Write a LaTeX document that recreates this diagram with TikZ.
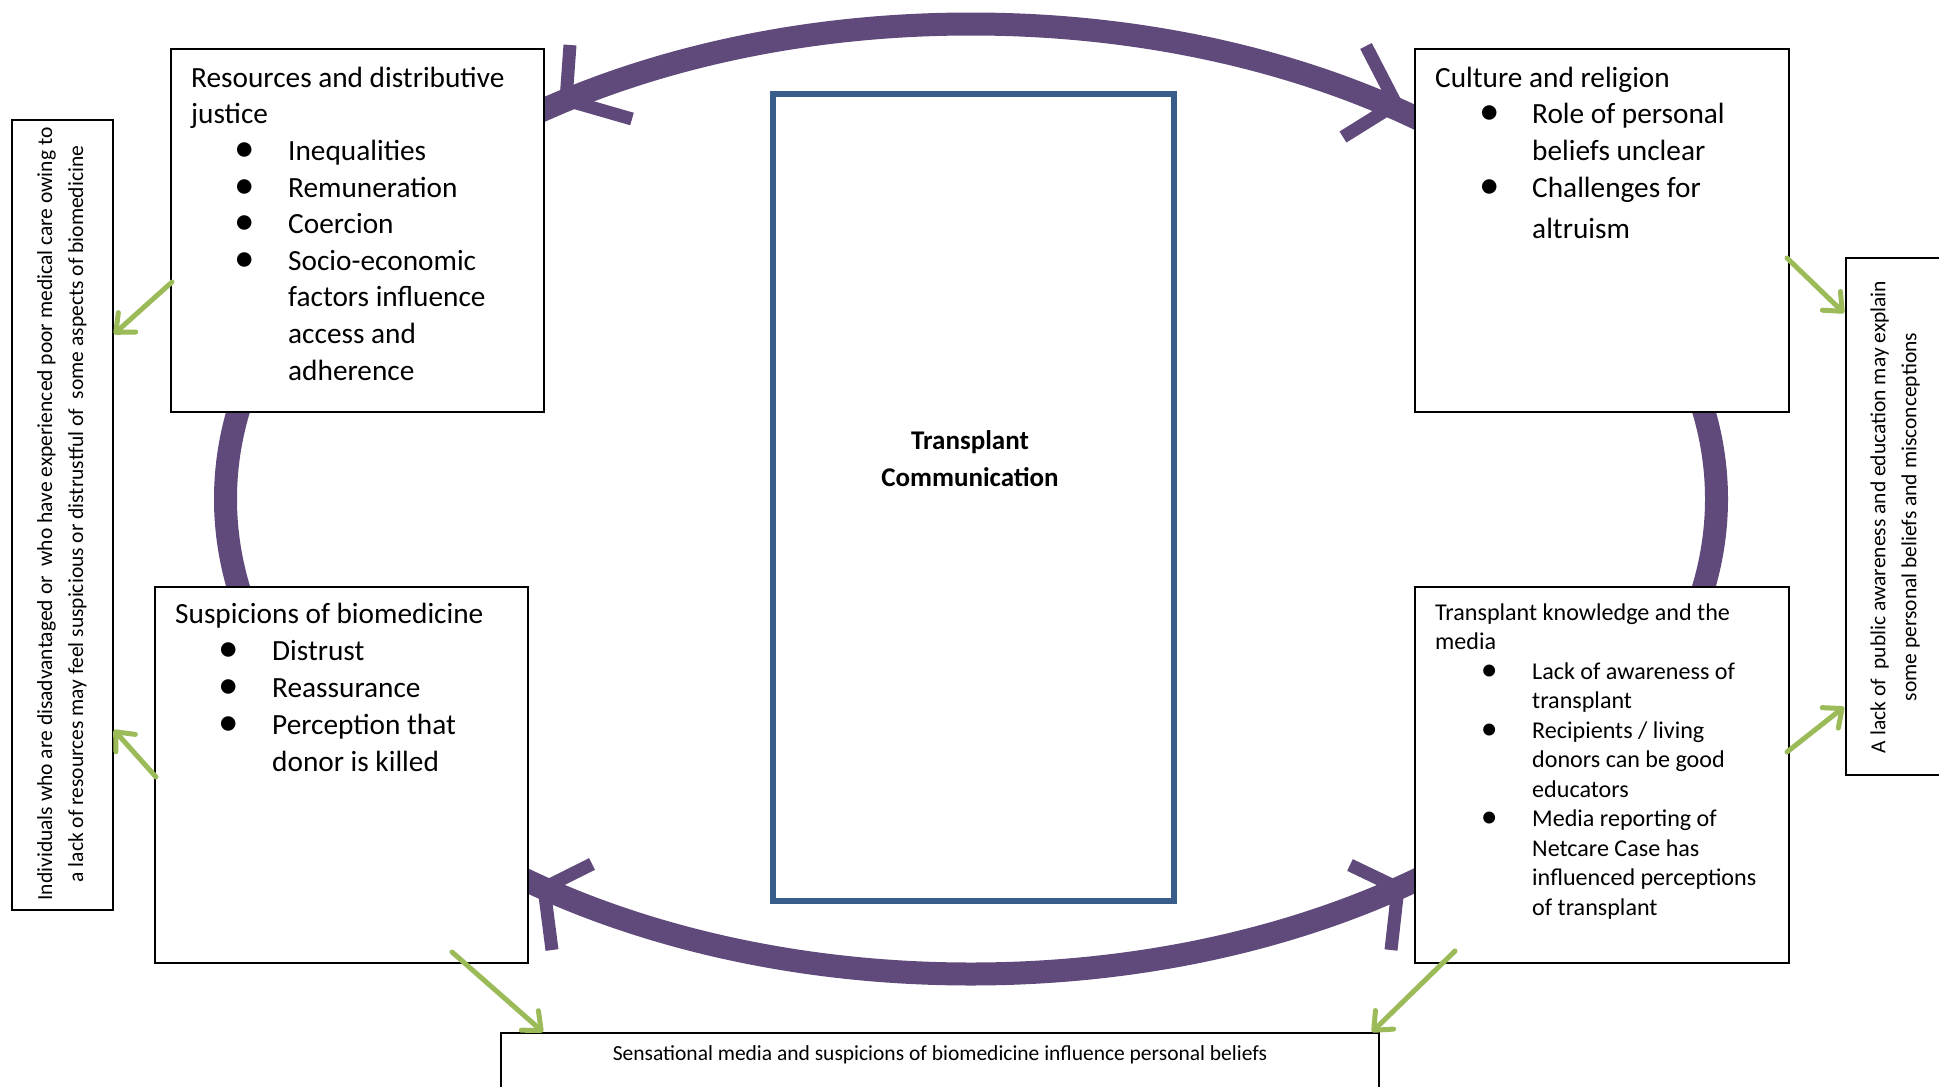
\documentclass[tikz,border=0pt]{standalone}
\usepackage{fontspec}
\setmainfont{Carlito}
\usetikzlibrary{arrows.meta}
\definecolor{ringpurple}{HTML}{604A7B}
\definecolor{linkgreen}{HTML}{9BBB59}
\definecolor{coreblue}{HTML}{385D8A}
% bulleted line and continuation line inside the theme boxes
\newcommand{\bpt}[1]{\hspace*{54pt}\makebox[0pt]{\raisebox{-1pt}{\scalebox{1.4}{\textbullet}}}\hspace*{43pt}#1}
\newcommand{\cont}[1]{\hspace*{97pt}#1}
\begin{document}
\begin{tikzpicture}[x=1pt,y=-1pt,
  box/.style={draw=black, line width=1.5pt, fill=white, inner sep=0pt, outer sep=0pt, anchor=north west},
  themetext/.style={align=left, inner sep=0pt, anchor=north west, font=\fontsize{29.3}{36.6}\selectfont},
  smalltheme/.style={align=left, inner sep=0pt, anchor=north west, font=\fontsize{24.1}{29.5}\selectfont},
  sidetext/.style={align=center, inner sep=0pt, font=\fontsize{21.5}{31}\selectfont},
  ring/.style={draw=ringpurple, line width=23pt},
  barb/.style={draw=ringpurple, line width=13pt, line cap=butt, line join=miter},
  link/.style={draw=linkgreen, line width=5pt, line cap=round,
    -{Straight Barb[length=15pt,width=26pt,round]}}]
\clip (0,0) rectangle (1939,1087);
\fill[white] (0,0) rectangle (1939,1087);

% feedback ring running behind the four theme boxes
\draw[ring] (971,499) ellipse [x radius=745.5pt, y radius=475pt];

% theme boxes
\node[box, minimum width=373pt, minimum height=363pt] (res) at (171,49) {};
\node[box, minimum width=374pt, minimum height=363pt] (cul) at (1415,49) {};
\node[box, minimum width=373pt, minimum height=376pt] (sus) at (155,587) {};
\node[box, minimum width=374pt, minimum height=376pt] (tk) at (1415,587) {};

% outcome boxes
\node[box, minimum width=101pt, minimum height=790pt] (lft) at (12,120) {};
\node[box, minimum width=100pt, minimum height=517pt] (rgt) at (1846,258) {};
\node[box, minimum width=878pt, minimum height=80pt] (bot) at (501,1033) {};

% central box
\node[draw=coreblue, line width=5.5pt, fill=white, inner sep=0pt, anchor=north west,
      minimum width=401pt, minimum height=807pt] (core) at (770,91) {};
\node[align=center, inner sep=0pt, anchor=north, font=\fontsize{27}{37}\selectfont\bfseries]
  (core-txt) at (970,424) {\rule{0pt}{25pt}Transplant\\Communication};

% theme texts
\node[themetext] (res-txt) at (191,62) {\rule{0pt}{25pt}Resources and distributive\\
justice\\
\bpt{Inequalities}\\
\bpt{Remuneration}\\
\bpt{Coercion}\\
\bpt{Socio-economic}\\
\cont{factors influence}\\
\cont{access and}\\
\cont{adherence}};

\node[themetext] (cul-txt) at (1435,62) {\rule{0pt}{25pt}Culture and religion\\
\bpt{Role of personal}\\
\cont{beliefs unclear}\\
\bpt{Challenges for}\\[5pt]
\cont{altruism}};

\node[themetext, font=\fontsize{29.3}{37}\selectfont] (sus-txt) at (175,598) {\rule{0pt}{25pt}Suspicions of biomedicine\\
\bpt{Distrust}\\
\bpt{Reassurance}\\
\bpt{Perception that}\\
\cont{donor is killed}};

\node[smalltheme] (tk-txt) at (1435,599) {\rule{0pt}{21pt}Transplant knowledge and the\\
media\\
\bpt{Lack of awareness of}\\
\cont{transplant}\\
\bpt{Recipients / living}\\
\cont{donors can be good}\\
\cont{educators}\\
\bpt{Media reporting of}\\
\cont{Netcare Case has}\\
\cont{influenced perceptions}\\
\cont{of transplant}};

% outcome texts
\node[sidetext, rotate=90] (lft-txt) at (62,514)
  {Individuals who are disadvantaged or\ \ who have experienced poor medical care owing to\\
   a lack of resources may feel suspicious or distrustful of\ \ some aspects of biomedicine};
\node[sidetext, rotate=90] (rgt-txt) at (1895,517)
  {A lack of\ \ public awareness and education may explain\\
   some personal beliefs and misconceptions};
\node[sidetext] (bot-txt) at (940,1055)
  {Sensational media and suspicions of biomedicine influence personal beliefs};

% arrowheads of the two-way links on the ring
\coordinate (tl-tip) at (566,100);
\coordinate (tr-tip) at (1396,104);
\coordinate (bl-tip) at (544,888);
\coordinate (br-tip) at (1398,888);
\draw[barb] (tl-tip) ++(4,-55) -- (tl-tip) -- ++(66,19);
\draw[barb] (tr-tip) ++(-30,-58) -- (tr-tip) -- ++(-53,33);
\draw[barb] (bl-tip) ++(48,-24) -- (bl-tip) -- ++(8,62);
\draw[barb] (br-tip) ++(-48,-23) -- (br-tip) -- ++(-7,62);

% links from the themes to the outcome boxes
\coordinate (g1s) at (172,282); \coordinate (g1e) at (114,334);
\coordinate (g2s) at (156,777); \coordinate (g2e) at (114,730);
\coordinate (g3s) at (1787,258); \coordinate (g3e) at (1844,313);
\coordinate (g4s) at (1787,752); \coordinate (g4e) at (1844,707);
\coordinate (g5s) at (452,952); \coordinate (g5e) at (543,1032);
\coordinate (g6s) at (1455,951); \coordinate (g6e) at (1372,1032);
\draw[link] (g1s) -- (g1e);
\draw[link] (g2s) -- (g2e);
\draw[link] (g3s) -- (g3e);
\draw[link] (g4s) -- (g4e);
\draw[link] (g5s) -- (g5e);
\draw[link] (g6s) -- (g6e);
\end{tikzpicture}
\end{document}
